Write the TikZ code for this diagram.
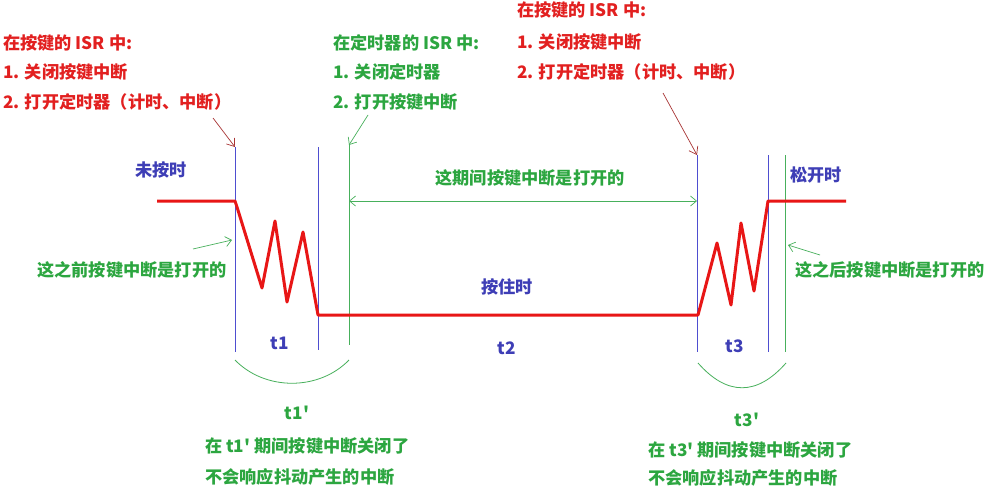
\documentclass[tikz,border=0pt]{standalone}
\usepackage{fontspec}
\setmainfont{Noto Sans CJK SC}
\usetikzlibrary{arrows.meta}
\definecolor{sigred}{RGB}{232,22,22}
\definecolor{txtred}{RGB}{226,32,32}
\definecolor{txtgreen}{RGB}{44,166,64}
\definecolor{txtblue}{RGB}{62,62,182}
\definecolor{lineblue}{RGB}{78,78,208}
\definecolor{linegreen}{RGB}{72,176,92}
\definecolor{arrred}{RGB}{168,52,52}
\newcommand{\pr}{\textquotesingle}
\tikzset{
  lbl/.style={font=\fontsize{17.2}{20}\selectfont\bfseries,inner sep=0pt},
  rtxt/.style={lbl,text=txtred,anchor=west},
  gtxt/.style={lbl,text=txtgreen,anchor=west},
  gmid/.style={lbl,text=txtgreen},
  bmid/.style={lbl,text=txtblue},
  sig/.style={sigred,line width=3pt,line join=round},
  bline/.style={lineblue,line width=0.8pt},
  gline/.style={linegreen,line width=0.8pt},
  garr/.style={linegreen,line width=0.7pt,-{Straight Barb[length=6pt,width=10pt]}},
  gdarr/.style={linegreen,line width=0.7pt,{Straight Barb[length=6pt,width=10pt]}-{Straight Barb[length=6pt,width=10pt]}},
  rarr/.style={arrred,line width=0.7pt,-{Straight Barb[length=7pt,width=10pt]}},
}
\begin{document}
\begin{tikzpicture}[x=1pt,y=-1pt]
\useasboundingbox[fill=white] (0,0) rectangle (985,490);
% text blocks at the top
\node[rtxt] (k1a) at (3,43) {在按键的 ISR 中:};
\node[rtxt] (k1b) at (3,72) {1. 关闭按键中断};
\node[rtxt] (k1c) at (3,102) {2. 打开定时器（计时、中断）};
\node[gtxt] (tma) at (333,43) {在定时器的 ISR 中:};
\node[gtxt] (tmb) at (333,72) {1. 关闭定时器};
\node[gtxt] (tmc) at (333,102) {2. 打开按键中断};
\node[rtxt] (k3a) at (517,10) {在按键的 ISR 中:};
\node[rtxt] (k3b) at (517,42) {1. 关闭按键中断};
\node[rtxt] (k3c) at (517,72) {2. 打开定时器（计时、中断）};
% marker lines
\foreach \n/\x/\t/\b in {b1/235/147/352,b2/318/147/350,b3/697/155/352,b4/768/155/352} {
  \coordinate (\n t) at (\x,\t); \coordinate (\n b) at (\x,\b);
  \draw[bline] (\n t) -- (\n b);
}
\foreach \n/\x/\t/\b in {g1/349/145/345,g2/785/155/352} {
  \coordinate (\n t) at (\x,\t); \coordinate (\n b) at (\x,\b);
  \draw[gline] (\n t) -- (\n b);
}
% key signal
\draw[sig] (157,201) -- (235,201) -- (237,207) -- (262,288) -- (275,221) -- (287,302)
  -- (303,232) -- (318,315) -- (698,315) -- (717,243) -- (731,305) -- (741,223)
  -- (754,291) -- (768,201) -- (846,201);
% labels
\node[bmid] (up) at (161,170) {未按时};
\node[bmid] (rel) at (816,175) {松开时};
\node[bmid] (hold) at (507,287) {按住时};
\node[bmid] (t1) at (280,343) {t1};
\node[bmid] (t2) at (507,348) {t2};
\node[bmid] (t3) at (735,346) {t3};
\node[gmid] (open) at (530,178) {这期间按键中断是打开的};
\node[gtxt] (bef) at (37,270) {这之前按键中断是打开的};
\node[gtxt] (aft) at (795,270) {这之后按键中断是打开的};
% pointers
\coordinate (r1) at (213,118);
\coordinate (r3) at (663,93);
\coordinate (gm) at (368,115);
\coordinate (gb) at (193,249);
\coordinate (ga) at (820,255);
\draw[rarr] (r1) -- (b1t);
\draw[rarr] (r3) -- (b3t);
\draw[garr] (gm) -- (g1t);
\draw[garr] (gb) -- (232,240);
\draw[garr] (ga) -- (788,245);
\coordinate (o1) at (349,201); \coordinate (o2) at (697,201);
\draw[gdarr] (o1) -- (o2);
% closed periods
\coordinate (c1a) at (235,360); \coordinate (c1b) at (349,360);
\coordinate (c3a) at (698,363); \coordinate (c3b) at (786,363);
\draw[gline] (c1a) .. controls (265,391) and (319,391) .. (c1b);
\draw[gline] (c3a) .. controls (727,396) and (757,396) .. (c3b);
\node[gmid] (t1p) at (297,413) {t1\pr};
\node[gtxt] (t1pa) at (205,446) {在 t1\pr\ 期间按键中断关闭了};
\node[gtxt] (t1pb) at (205,477) {不会响应抖动产生的中断};
\node[gmid] (t3p) at (747,420) {t3\pr};
\node[gtxt] (t3pa) at (648,450) {在 t3\pr\ 期间按键中断关闭了};
\node[gtxt] (t3pb) at (648,478) {不会响应抖动产生的中断};
\end{tikzpicture}
\end{document}
